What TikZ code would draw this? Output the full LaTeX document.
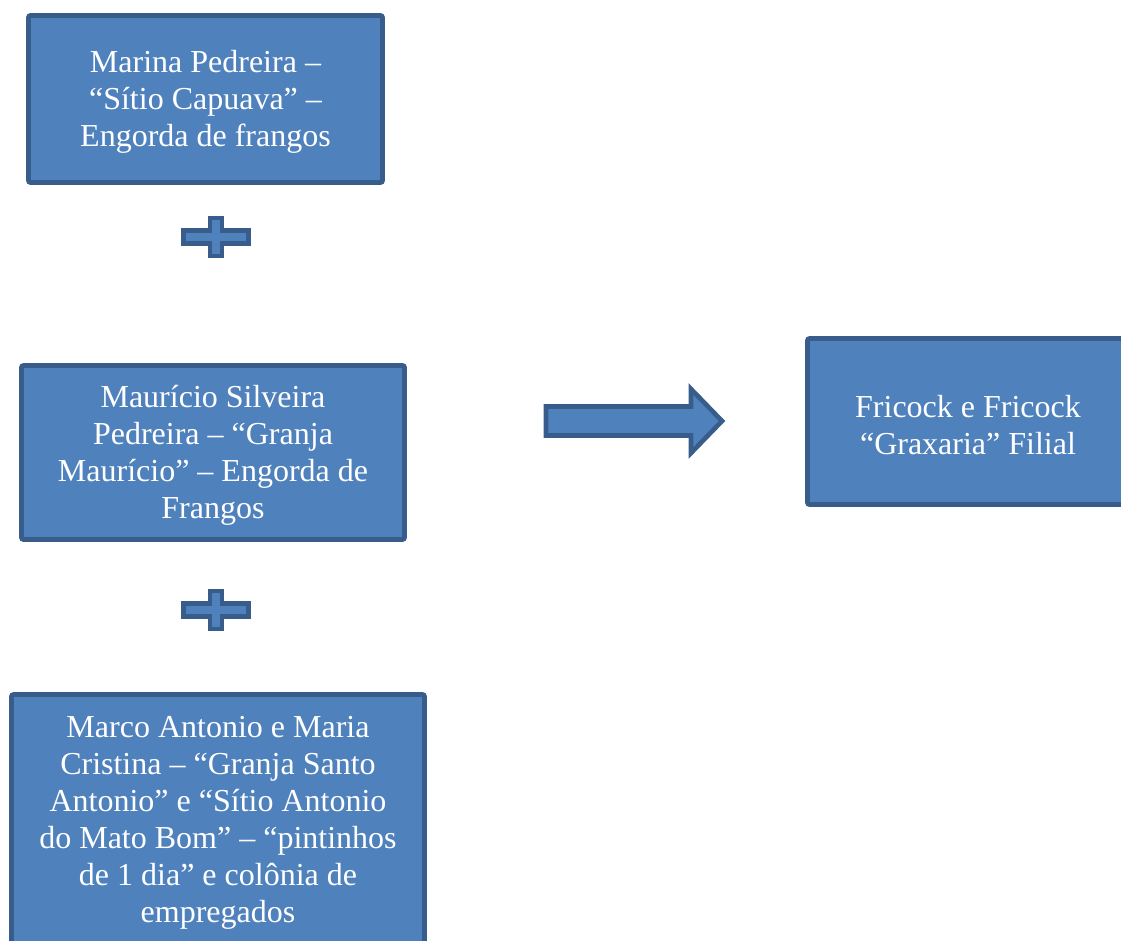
\documentclass[tikz,border=0pt]{standalone}
\usepackage{fontspec}
\setmainfont{Liberation Serif}
\usepackage{xcolor}
\definecolor{boxfill}{RGB}{79,129,189}
\definecolor{boxline}{RGB}{56,93,138}
\usepackage{tikz}
\usetikzlibrary{positioning}
\newcommand{\topgap}{\rule{0pt}{21.5pt}}

\begin{document}
\begin{tikzpicture}[x=0.75pt, y=-0.75pt,
    farm/.style={rectangle, draw=boxline, line width=3.5pt, fill=boxfill, text=white, align=center, rounded corners=1.5pt, font=\fontsize{24}{27.75}\selectfont},
    blockshape/.style={draw=boxline, line width=3.5pt, fill=boxfill, line join=miter},
    plus/.pic={\path[blockshape] (-32.5,-6.5) -- (-6,-6.5) -- (-6,-19) -- (6,-19) -- (6,-6.5) -- (32.5,-6.5) -- (32.5,6.5) -- (6,6.5) -- (6,19) -- (-6,19) -- (-6,6.5) -- (-32.5,6.5) -- cycle;}]
    \useasboundingbox (0,0) rectangle (1121,940);
    \clip (0,0) rectangle (1121,940);

    % Farms
    \node [farm, minimum width=265.5pt, minimum height=125.25pt] (marina) at (205.5,99) {\topgap Marina Pedreira –\\“Sítio Capuava” –\\Engorda de frangos};
    \node [farm, minimum width=287.25pt, minimum height=130.5pt] (mauricio) at (213,452.5) {\topgap Maurício Silveira\\Pedreira – “Granja\\Maurício” – Engorda de\\Frangos};
    \node [farm, minimum width=309.75pt, minimum height=186.75pt] (marco) at (218,819) {\topgap Marco Antonio e Maria\\Cristina – “Granja Santo\\Antonio” e “Sítio Antonio\\do Mato Bom” – “pintinhos\\de 1 dia” e colônia de\\empregados};

    % Plus signs
    \pic at (216,237) {plus};
    \pic at (216,610) {plus};

    % Result
    \node [farm, minimum width=240.75pt, minimum height=124.5pt] (fricock) at (968,421.5) {\topgap Fricock e Fricock\\“Graxaria” Filial};

    % Arrow
    \path [blockshape] (546,406.5) -- (691,406.5) -- (691,389) -- (722,421) -- (691,453) -- (691,435.5) -- (546,435.5) -- cycle;
\end{tikzpicture}
\end{document}
